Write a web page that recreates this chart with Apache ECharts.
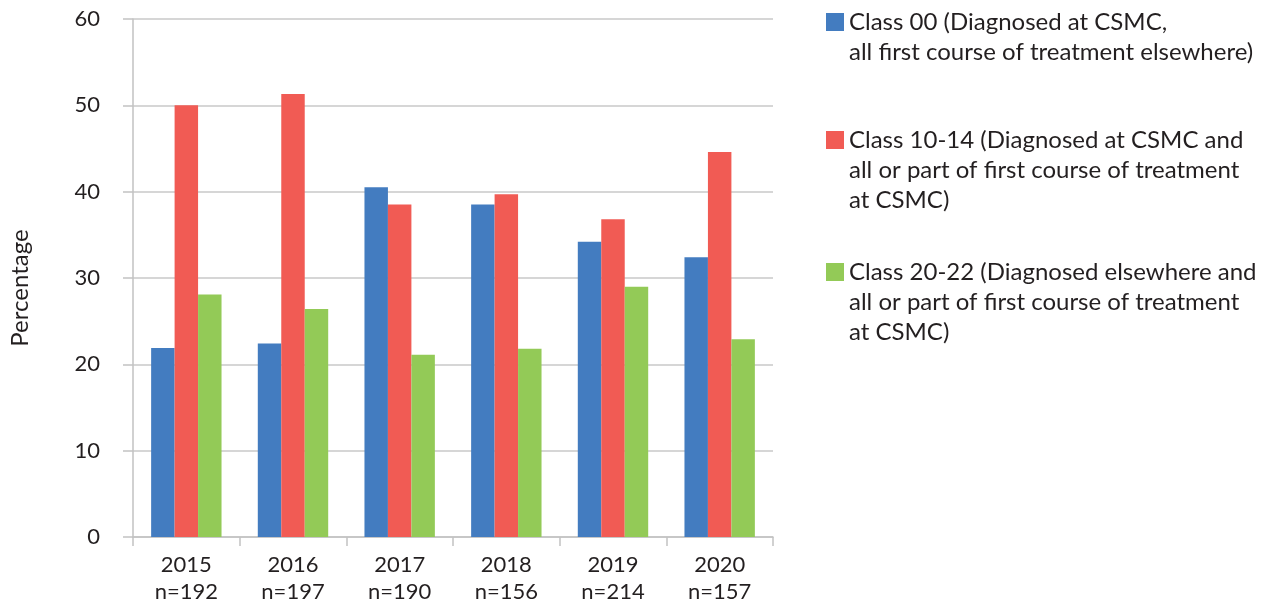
<!DOCTYPE html>
<html>
<head>
<meta charset="utf-8">
<script src="https://cdn.jsdelivr.net/npm/echarts@6/dist/echarts.min.js"></script>
<style>
html, body { margin: 0; padding: 0; background: #fff; }
#chart { width: 1269px; height: 602px; }
</style>
</head>
<body>
<div id="chart"></div>
<script>
var years = ['2015', '2016', '2017', '2018', '2019', '2020'];
var counts = ['n=192', 'n=197', 'n=190', 'n=156', 'n=214', 'n=157'];
var class00 = [21.9, 22.4, 40.5, 38.5, 34.2, 32.4];
var class10 = [50.0, 51.3, 38.5, 39.7, 36.8, 44.6];
var class20 = [28.1, 26.4, 21.1, 21.8, 29.0, 22.9];
var names = ['Class 00', 'Class 10-14', 'Class 20-22'];
var legendLines = [
	['Class 00 (Diagnosed at CSMC,', 'all first course of treatment elsewhere)'],
	['Class 10-14 (Diagnosed at CSMC and', 'all or part of first course of treatment', 'at CSMC)'],
	['Class 20-22 (Diagnosed elsewhere and', 'all or part of first course of treatment', 'at CSMC)']
];
var colors = ['#437cc0', '#f15b54', '#93ca57'];

var font = 'Lato, "Open Sans", sans-serif';
var lh = 30;
// centre of the first text line of each legend entry
var legendTops = [22, 140, 272];

var myChart = echarts.init(document.getElementById('chart'));

// one legend per entry; blank lines above keep the square level with line 1
var legends = [];
for (var i = 0; i < names.length; i++) {
	(function(i) {
		var n = legendLines[i].length;
		var pad = [];
		for (var k = 1; k < n; k++) pad.push('\u00a0');
		legends.push({
			data: [names[i]],
			left: 826,
			top: legendTops[i] - lh / 2 - (n - 1) * lh,
			padding: 0,
			itemWidth: 18,
			itemHeight: 18,
			itemGap: 0,
			icon: 'rect',
			selectedMode: false,
			formatter: function() {
				return pad.concat(legendLines[i]).join('\n');
			},
			textStyle: {
				fontFamily: font,
				fontSize: 24,
				color: '#231f20',
				lineHeight: lh
			}
		});
	})(i);
}

var option = {
	color: colors,
	animation: false,
	legend: legends,
	grid: {
		left: 133,
		right: 496,
		top: 19,
		bottom: 65,
		outerBoundsMode: 'none'
	},
	xAxis: {
		type: 'category',
		data: years,
		axisLine: { lineStyle: { color: '#c2c2c2', width: 1.5 } },
		axisTick: { show: true, length: 9, lineStyle: { color: '#c2c2c2', width: 1.5 } },
		axisLabel: {
			margin: 14,
			fontFamily: font,
			fontSize: 22,
			color: '#231f20',
			lineHeight: 27,
			formatter: function(v, idx) {
				return v + '\n' + counts[idx];
			}
		}
	},
	yAxis: {
		type: 'value',
		min: 0,
		max: 60,
		interval: 10,
		name: 'Percentage',
		nameLocation: 'middle',
		nameGap: 101,
		nameTextStyle: { fontFamily: font, fontSize: 24, color: '#231f20', padding: [0, 20, 0, 0] },
		axisLine: { show: true, lineStyle: { color: '#c2c2c2', width: 1.5 } },
		axisTick: { show: true, length: 10, lineStyle: { color: '#c2c2c2', width: 1.5 } },
		axisLabel: { margin: 33, fontFamily: font, fontSize: 22, color: '#231f20' },
		splitLine: { lineStyle: { color: '#c8c8c8', width: 1.5 } }
	},
	series: [
		{ name: names[0], type: 'bar', data: class00, barGap: 0, barCategoryGap: '34%' },
		{ name: names[1], type: 'bar', data: class10, barGap: 0, barCategoryGap: '34%' },
		{ name: names[2], type: 'bar', data: class20, barGap: 0, barCategoryGap: '34%' }
	]
};
myChart.setOption(option);
</script>
</body>
</html>
